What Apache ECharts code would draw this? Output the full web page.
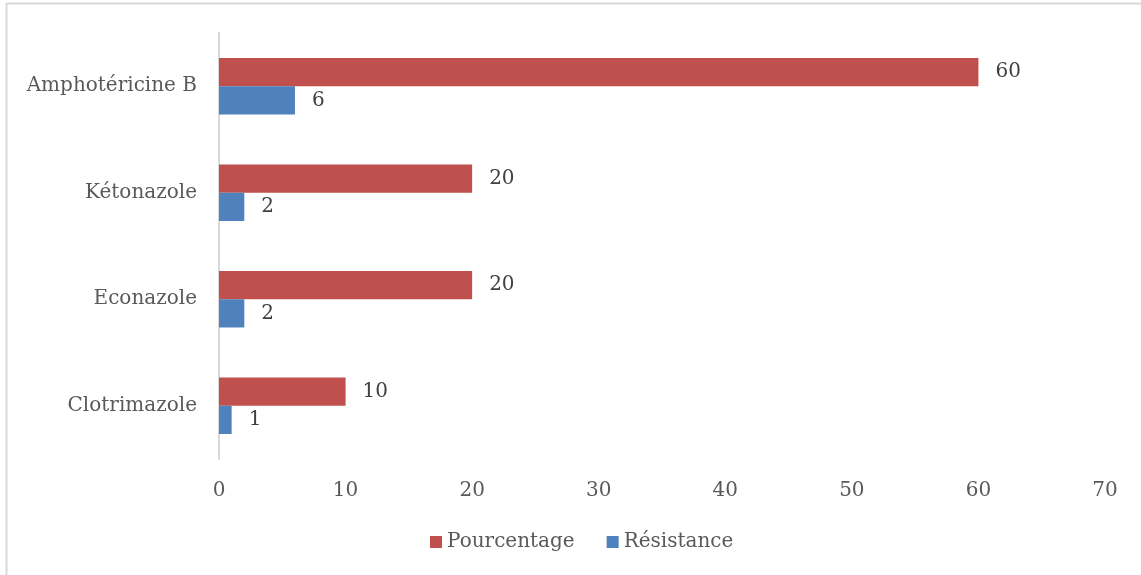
<!DOCTYPE html>
<html>
<head>
<meta charset="utf-8">
<script src="https://cdn.jsdelivr.net/npm/echarts@6/dist/echarts.min.js"></script>
<style>
  html, body { margin: 0; padding: 0; background: #fff; }
  #chart { width: 1141px; height: 575px; }
</style>
</head>
<body>
<div id="chart"></div>
<script>
// Antifongiques, du bas vers le haut de l'axe
const categories = ['Clotrimazole', 'Econazole', 'Kétonazole', 'Amphotéricine B'];
const pourcentage = [10, 20, 20, 60];
const resistance = [1, 2, 2, 6];
const xTicks = { min: 0, max: 70, interval: 10 };

const FONT = '"DejaVu Serif", serif';
const TEXT = '#595959';
const SIZE = 20;

const chart = echarts.init(document.getElementById('chart'), null, { renderer: 'canvas' });

const labelStyle = {
  show: true,
  position: 'right',
  distance: 17,
  fontFamily: FONT,
  fontSize: SIZE,
  color: '#404040'
};

chart.setOption({
  animation: false,
  backgroundColor: '#fff',
  grid: { left: 219, right: 36, top: 33, bottom: 116, containLabel: false },
  legend: {
    data: ['Pourcentage', 'Résistance'],
    bottom: 23,
    left: 430,
    padding: 0,
    itemWidth: 12,
    itemHeight: 12,
    itemGap: 32,
    icon: 'rect',
    textStyle: { fontFamily: FONT, fontSize: SIZE, color: TEXT }
  },
  xAxis: {
    type: 'value',
    min: xTicks.min,
    max: xTicks.max,
    interval: xTicks.interval,
    axisLine: { show: false },
    axisTick: { show: false },
    splitLine: { show: false },
    axisLabel: { margin: 22, fontFamily: FONT, fontSize: SIZE, color: TEXT }
  },
  yAxis: {
    type: 'category',
    data: categories,
    axisLine: { show: true, lineStyle: { color: '#d9d9d9', width: 2 } },
    axisTick: { show: false },
    axisLabel: { margin: 22, fontFamily: FONT, fontSize: SIZE, color: TEXT }
  },
  series: [
    {
      name: 'Pourcentage',
      type: 'bar',
      data: pourcentage,
      barGap: '0%',
      barCategoryGap: '47%',
      itemStyle: { color: '#C0504D' },
      label: labelStyle
    },
    {
      name: 'Résistance',
      type: 'bar',
      data: resistance,
      barGap: '0%',
      barCategoryGap: '47%',
      itemStyle: { color: '#4F81BD' },
      label: labelStyle
    }
  ],
  graphic: [
    {
      type: 'rect',
      silent: true,
      shape: { x: 6.5, y: 3.5, width: 1200, height: 700 },
      style: { fill: 'none', stroke: '#d9d9d9', lineWidth: 2 }
    }
  ]
});
</script>
</body>
</html>
